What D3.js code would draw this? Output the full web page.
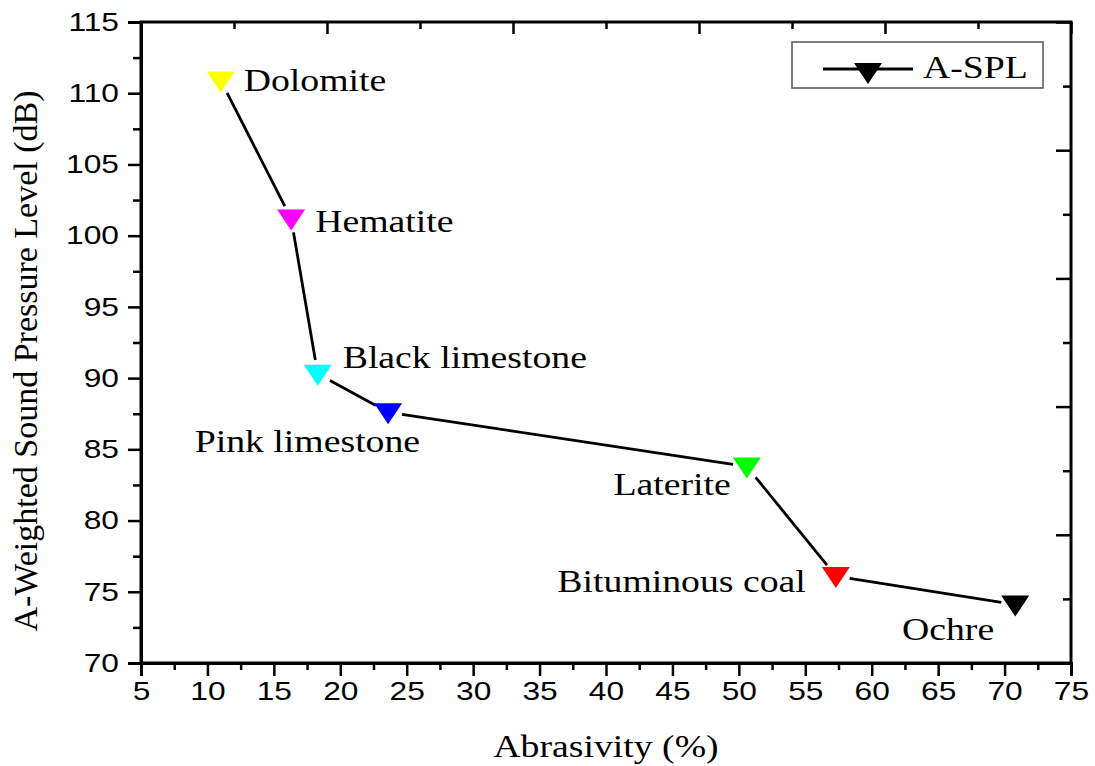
<!DOCTYPE html>
<html>
<head>
<meta charset="utf-8">
<script src="https://cdn.jsdelivr.net/npm/d3@7"></script>
<style>
  body { margin: 0; background: #fff; }
  svg { display: block; }
</style>
</head>
<body>
<div id="chart"></div>
<script>
// data
const minerals = ['Dolomite', 'Hematite', 'Black limestone', 'Pink limestone', 'Laterite', 'Bituminous coal', 'Ochre'];
const abrasivity = [11.0, 16.3, 18.3, 23.6, 50.6, 57.3, 70.8];
const aspl = [110.9, 101.2, 90.3, 87.6, 83.8, 76.1, 74.1];
const markerColors = ['#ffff00', '#ff00ff', '#00ffff', '#0000ff', '#00ff00', '#ff0000', '#000000'];
const xTicks = [5, 10, 15, 20, 25, 30, 35, 40, 45, 50, 55, 60, 65, 70, 75];
const yTicks = [70, 75, 80, 85, 90, 95, 100, 105, 110, 115];
const topTicks = [5, 19, 33, 47, 61, 75];
const rightTicks = [70, 79, 88, 97, 106, 115];

// label placement relative to the marker (px)
const labelPos = [
  {dx: 23, dy: 11, anchor: 'start'},
  {dx: 24, dy: 13, anchor: 'start'},
  {dx: 25, dy: -6, anchor: 'start'},
  {dx: 32, dy: 40, anchor: 'end'},
  {dx: -16, dy: 29, anchor: 'end'},
  {dx: -30, dy: 16, anchor: 'end'},
  {dx: -21, dy: 35, anchor: 'end'}
];

const config = {
  width: 1095,
  height: 766,
  margin: {top: 22, right: 24, bottom: 103, left: 141},
  stretch: 1.18   // the source picture is widened horizontally
};

const svg = d3.select('#chart').append('svg')
  .attr('width', config.width)
  .attr('height', config.height);

const innerW = config.width - config.margin.left - config.margin.right;
const innerH = config.height - config.margin.top - config.margin.bottom;

const g = svg.append('g')
  .attr('transform', `translate(${config.margin.left},${config.margin.top})`);

const xScale = d3.scaleLinear().domain([5, 75]).range([0, innerW]);
const yScale = d3.scaleLinear().domain([70, 115]).range([innerH, 0]);

const midpoints = arr => arr.slice(1).map((v, i) => (v + arr[i]) / 2);

// bottom axis
const xAxis = d3.axisBottom(xScale).tickValues(xTicks).tickSize(13).tickPadding(6).tickFormat(d3.format('d'));
const xAxisG = g.append('g').attr('transform', `translate(0,${innerH})`).call(xAxis);
g.append('g').attr('transform', `translate(0,${innerH})`)
  .call(d3.axisBottom(xScale).tickValues(midpoints(xTicks)).tickSize(7).tickFormat(''))
  .call(a => a.select('.domain').remove());

// left axis
const yAxis = d3.axisLeft(yScale).tickValues(yTicks).tickSize(13).tickPadding(6).tickFormat(d3.format('d'));
const yAxisG = g.append('g').call(yAxis);
g.append('g')
  .call(d3.axisLeft(yScale).tickValues(midpoints(yTicks)).tickSize(8).tickFormat(''))
  .call(a => a.select('.domain').remove());

// top axis, ticks inward, no labels
g.append('g').call(d3.axisBottom(xScale).tickValues(topTicks).tickSize(12).tickFormat(''))
  .call(a => a.select('.domain').remove());
g.append('g').call(d3.axisBottom(xScale).tickValues(midpoints(topTicks)).tickSize(7).tickFormat(''))
  .call(a => a.select('.domain').remove());

// right axis, ticks inward, no labels
g.append('g').attr('transform', `translate(${innerW},0)`)
  .call(d3.axisLeft(yScale).tickValues(rightTicks).tickSize(15).tickFormat(''))
  .call(a => a.select('.domain').remove());
g.append('g').attr('transform', `translate(${innerW},0)`)
  .call(d3.axisLeft(yScale).tickValues(midpoints(rightTicks)).tickSize(8).tickFormat(''))
  .call(a => a.select('.domain').remove());

// frame
g.append('rect')
  .attr('width', innerW).attr('height', innerH)
  .attr('fill', 'none').attr('stroke', '#000').attr('stroke-width', 3);

g.selectAll('.tick line').attr('stroke', '#000').attr('stroke-width', 2.5);
g.selectAll('.domain').attr('stroke-width', 3);

// tick labels: Arial-like, widened
[xAxisG, yAxisG].forEach(ax => {
  ax.selectAll('.tick text')
    .attr('font-family', 'Liberation Sans, Arial, sans-serif')
    .attr('font-size', 26)
    .attr('fill', '#000');
});
xAxisG.selectAll('.tick text').each(function() {
  const t = d3.select(this);
  const y = +t.attr('y');
  t.attr('y', null).attr('dy', '0.71em')
    .attr('transform', `translate(0,${y}) scale(1.22,1)`);
});
yAxisG.selectAll('.tick text').each(function() {
  const t = d3.select(this);
  const x = +t.attr('x');
  t.attr('x', null)
    .attr('transform', `translate(${x - 3},0) scale(1.22,1)`);
});

const serif = 'Liberation Serif, Times New Roman, serif';

// connecting line, drawn as separate segments with a gap at each marker
const pts = abrasivity.map((x, i) => [xScale(x), yScale(aspl[i])]);
const gap = 14;
const segs = pts.slice(1).map((p, i) => {
  const a = pts[i];
  const dx = p[0] - a[0], dy = p[1] - a[1];
  const len = Math.hypot(dx, dy);
  const ux = dx / len, uy = dy / len;
  return [[a[0] + ux * gap, a[1] + uy * gap], [p[0] - ux * gap, p[1] - uy * gap]];
});
g.selectAll('.seg')
  .data(segs)
  .join('line')
  .attr('class', 'seg')
  .attr('x1', d => d[0][0]).attr('y1', d => d[0][1])
  .attr('x2', d => d[1][0]).attr('y2', d => d[1][1])
  .attr('stroke', '#000')
  .attr('stroke-width', 2.8);

// down-triangle markers
const tri = 'M-14,-9 L14,-9 L0,12 Z';
g.selectAll('.marker')
  .data(minerals)
  .join('path')
  .attr('class', 'marker')
  .attr('d', tri)
  .attr('transform', (d, i) => `translate(${pts[i][0]},${pts[i][1]})`)
  .attr('fill', (d, i) => markerColors[i]);

// mineral labels
g.selectAll('.label')
  .data(minerals)
  .join('text')
  .attr('class', 'label')
  .attr('transform', (d, i) => `translate(${pts[i][0] + labelPos[i].dx},${pts[i][1] + labelPos[i].dy}) scale(${config.stretch},1)`)
  .attr('text-anchor', (d, i) => labelPos[i].anchor)
  .attr('font-family', serif)
  .attr('font-size', 32)
  .attr('fill', '#000')
  .text(d => d);

// legend
const legend = svg.append('g').attr('transform', 'translate(792,42)');
legend.append('rect')
  .attr('width', 251).attr('height', 46)
  .attr('fill', '#fff').attr('stroke', '#555').attr('stroke-width', 1.5);
legend.append('line')
  .attr('x1', 31).attr('x2', 121).attr('y1', 27).attr('y2', 27)
  .attr('stroke', '#000').attr('stroke-width', 2.8);
legend.append('path')
  .attr('d', tri)
  .attr('transform', 'translate(76,30)')
  .attr('fill', '#000');
legend.append('text')
  .attr('transform', `translate(131,36) scale(${config.stretch},1)`)
  .attr('font-family', serif)
  .attr('font-size', 32)
  .text('A-SPL');

// axis titles
svg.append('text')
  .attr('transform', `translate(${config.margin.left + innerW / 2},757) scale(${config.stretch},1)`)
  .attr('text-anchor', 'middle')
  .attr('font-family', serif)
  .attr('font-size', 32)
  .text('Abrasivity (%)');

svg.append('text')
  .attr('transform', `translate(37,361) rotate(-90)`)
  .attr('text-anchor', 'middle')
  .attr('font-family', serif)
  .attr('font-size', 34)
  .text('A-Weighted Sound Pressure Level (dB)');
</script>
</body>
</html>
